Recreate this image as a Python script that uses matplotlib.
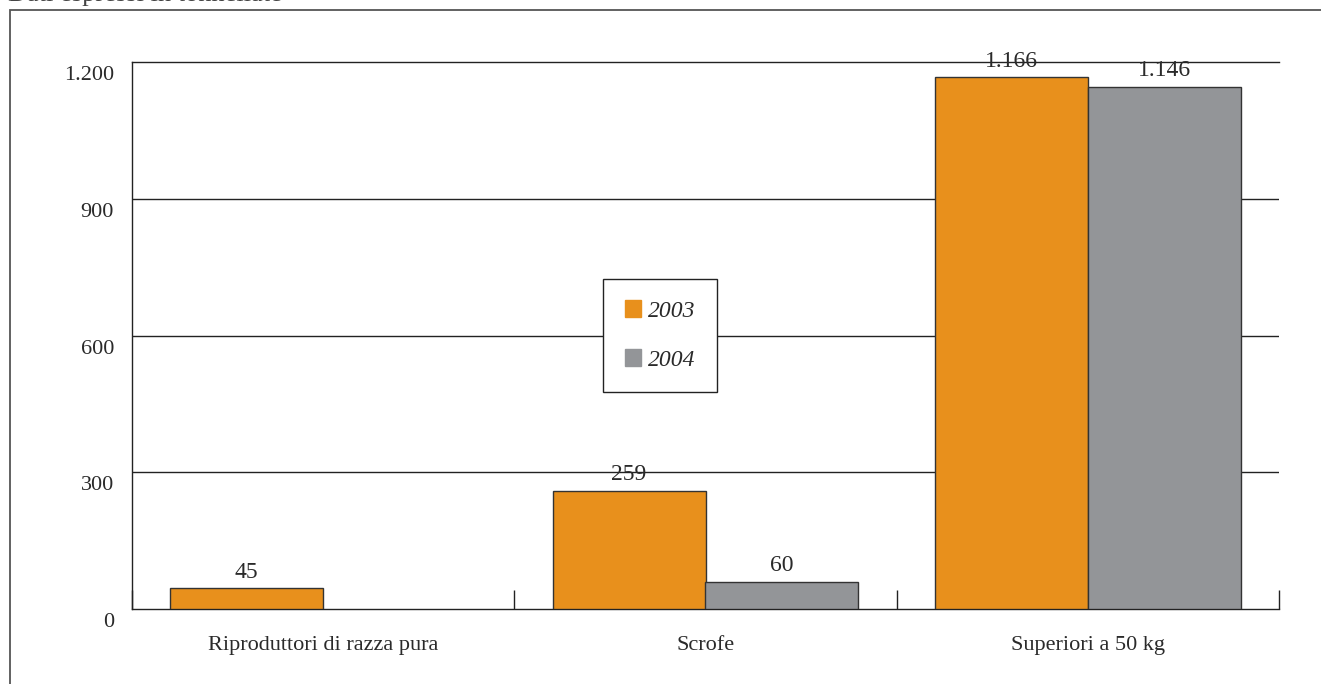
import matplotlib.pyplot as plt
import numpy as np
from matplotlib.patches import Rectangle
from matplotlib.transforms import ScaledTranslation

categorie = ['Riproduttori di razza pura', 'Scrofe', 'Superiori a 50 kg']
anni = ['2003', '2004']
valori_2003 = [45, 259, 1166]
valori_2004 = [None, 60, 1146]
y_ticks = [0, 300, 600, 900, 1200]
y_labels = ['0', '300', '600', '900', '1.200']

arancio = '#E8901C'
grigio = '#939598'
bordo = '#333333'
testo = '#2a2a2a'

plt.rcParams['font.family'] = ['Liberation Serif', 'DejaVu Serif']

fig = plt.figure(figsize=(13.21, 6.84), dpi=100)
W, H = 1321, 684

# cornice esterna
fig.patches.append(Rectangle((10 / W, -0.1), 1.2, 1 - 10 / H + 0.1,
                             transform=fig.transFigure, fill=False,
                             edgecolor='#555555', lw=1.3))
# titolo tagliato in alto, come nell'originale
fig.text(8 / W, 1 - 1 / H, 'Dati espressi in tonnellate', fontsize=19,
         color='#444444', va='baseline', ha='left')

ax = fig.add_axes([132 / W, 1 - 609 / H, (1279 - 132) / W, (609 - 62) / H])

x = np.arange(len(categorie))
w = 0.4
for i, v in enumerate(valori_2003):
    ax.bar(x[i] - w / 2, v, w, color=arancio, edgecolor=bordo, lw=1, zorder=3)
    ax.text(x[i] - w / 2, v + 12, f'{v:,}'.replace(',', '.'), ha='center',
            va='bottom', fontsize=17, color=testo)
for i, v in enumerate(valori_2004):
    if v is None:
        continue
    ax.bar(x[i] + w / 2, v, w, color=grigio, edgecolor=bordo, lw=1, zorder=3)
    ax.text(x[i] + w / 2, v + 12, f'{v:,}'.replace(',', '.'), ha='center',
            va='bottom', fontsize=17, color=testo)

ax.set_xlim(-0.5, 2.5)
ax.set_ylim(0, 1200)
ax.set_yticks(y_ticks)
ax.set_yticklabels(y_labels, fontsize=16, color=testo)
ax.tick_params(axis='y', length=0, pad=13)
spost = ScaledTranslation(0, -11 / 100, fig.dpi_scale_trans)
for lab in ax.get_yticklabels():
    lab.set_transform(lab.get_transform() + spost)
for yy in y_ticks[1:-1]:
    ax.axhline(yy, color='#222222', lw=1, zorder=1)

ax.set_xticks([-0.5, 0.5, 1.5, 2.5])
ax.set_xticklabels([])
ax.tick_params(axis='x', direction='in', length=14, width=1, color='#222222')
for i, c in enumerate(categorie):
    ax.text(x[i], -0.05, c, transform=ax.get_xaxis_transform(), ha='center',
            va='top', fontsize=16, color=testo)

for s in ['left', 'bottom', 'top']:
    ax.spines[s].set_color('#222222')
    ax.spines[s].set_linewidth(1)
ax.spines['right'].set_visible(False)

# leggenda
handles = [Rectangle((0, 0), 1, 1, color=arancio), Rectangle((0, 0), 1, 1, color=grigio)]
leg = ax.legend(handles, anni, loc='upper left', bbox_to_anchor=(0.411, 0.603),
                fancybox=False, edgecolor='#222222', framealpha=1,
                prop={'style': 'italic', 'size': 17}, handlelength=0.7,
                handleheight=0.7, handletextpad=0.3, labelspacing=1.15,
                borderpad=0.9, borderaxespad=0)
leg.get_frame().set_linewidth(1)
leg.set_zorder(5)
for t in leg.get_texts():
    t.set_color(testo)

fig.savefig('out.png', dpi=100)
